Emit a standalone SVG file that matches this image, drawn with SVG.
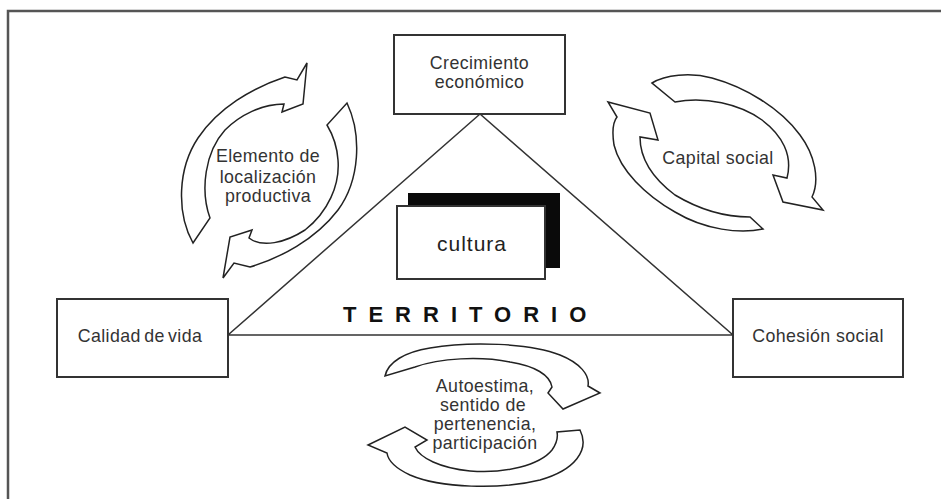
<svg xmlns="http://www.w3.org/2000/svg" width="941" height="499" viewBox="0 0 941 499">
<style>
.frame{fill:none;stroke:#555;stroke-width:2.5}
.box{fill:#fff;stroke:#333;stroke-width:2}
.ln{fill:none;stroke:#333;stroke-width:1.5}
.arr{fill:#fff;stroke:#222;stroke-width:1.5;stroke-linejoin:miter}
.t{font-family:"Liberation Sans",Arial,sans-serif;font-size:17.8px;fill:#333;text-anchor:middle;letter-spacing:0.4px}
.big{font-family:"Liberation Sans",Arial,sans-serif;font-size:21px;fill:#222;text-anchor:middle;letter-spacing:1px}
.terr{font-family:"Liberation Sans",Arial,sans-serif;font-size:22px;font-weight:bold;fill:#111;letter-spacing:12px}
</style>
<rect width="941" height="499" fill="#fff"/>
<path class="frame" d="M8,499 V11 H941"/>
<g id="connectors">
<path class="ln" d="M480,114 L228,335 L733,335 Z"/>
</g>
<g id="crecimiento">
<rect class="box" x="394" y="35" width="171" height="79"/>
<text class="t" x="479.5" y="69">Crecimiento</text>
<text class="t" x="479.5" y="88">económico</text>
</g>
<g id="calidad">
<rect class="box" x="57" y="299" width="171" height="78"/>
<text class="t" x="140" y="342" word-spacing="-2">Calidad de vida</text>
</g>
<g id="cohesion">
<rect class="box" x="733" y="299" width="170" height="78"/>
<text class="t" x="818" y="342">Cohesión social</text>
</g>
<g id="cultura">
<rect x="408" y="193" width="152" height="75" fill="#0a0a0a"/>
<rect class="box" x="397" y="206" width="148" height="73"/>
<text class="big" x="472" y="251">cultura</text>
</g>
<g id="territorio">
<text class="terr" x="343" y="322">TERRITORIO</text>
</g>
<g id="ciclo-localizacion">
<path class="arr" d="M193,243 C176,212 178,168 198,138 C218,108 252,88 285,77 L297,80 L307,63 L303,104 L282,112 L284,104 C262,104 240,115 225,130 C205,152 200,190 210,218 Z"/>
<path class="arr" d="M347,103 C362,135 360,180 338,210 C315,240 280,258 250,267 L234,263 L223,278 L230,237 L252,230 L249,238 C262,248 285,243 305,230 C328,212 340,185 338,160 C337,145 333,135 327,125 Z"/>
<text class="t" x="268" y="162">Elemento de</text>
<text class="t" x="268" y="183">localización</text>
<text class="t" x="268" y="202">productiva</text>
</g>
<g id="ciclo-capital">
<path class="arr" d="M652,83 C665,75 690,72 712,78 C745,87 780,108 800,135 C815,155 820,180 812,197 L823,210 L783,202 L773,175 L787,178 C793,155 782,135 762,120 C740,104 705,96 675,102 Z"/>
<path class="arr" d="M763,229 C740,234 705,230 675,212 C645,195 620,170 614,145 C612,132 613,122 617,117 L608,102 L650,113 L658,140 L640,137 C640,160 655,180 675,195 C700,210 725,217 750,217 Z"/>
<text class="t" x="718" y="164">Capital social</text>
</g>
<g id="ciclo-autoestima">
<path class="arr" d="M385,376 C388,362 405,352 430,348 C470,341 530,343 560,355 C580,363 590,375 588,386 L600,393 L563,409 L548,393 L552,387 C550,375 535,366 510,362 C480,356 440,358 415,367 Z"/>
<path class="arr" d="M580,430 C590,450 575,470 540,480 C500,490 440,488 410,475 C395,468 388,460 387,453 L368,445 L405,427 L427,440 L415,447 C420,458 440,468 470,471 C505,474 540,465 552,450 C557,443 558,437 557,432 Z"/>
<text class="t" x="485" y="392">Autoestima,</text>
<text class="t" x="483" y="411">sentido de</text>
<text class="t" x="485" y="430">pertenencia,</text>
<text class="t" x="485" y="449">participación</text>
</g>
</svg>
